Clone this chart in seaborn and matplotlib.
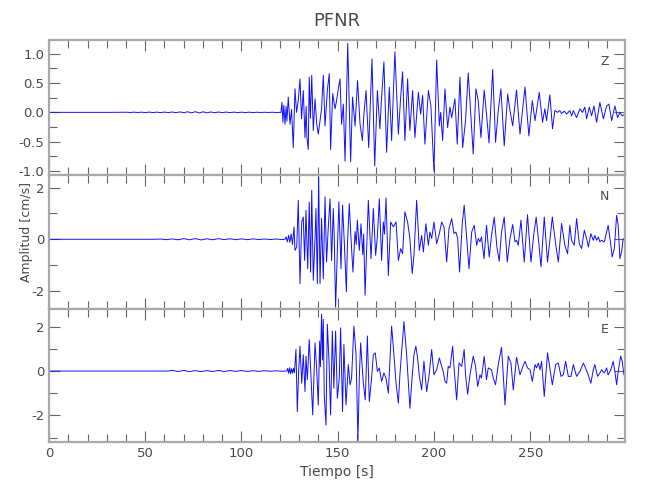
import numpy as np
import pandas as pd
import matplotlib
matplotlib.use("Agg")
import matplotlib.pyplot as plt
import seaborn as sns
from matplotlib.ticker import MultipleLocator

# Station / components
station = "PFNR"
components = ["Z", "N", "E"]

# Vertical component: (time [s], amplitude [cm/s])
z_trace = [
    (0, 0.0), (30, 0.0), (40, 0.002), (42, -0.002), (44, 0.003), (46, -0.002), (48, 0.003),
    (50, -0.003), (52, 0.004), (54, -0.003), (56, 0.004), (58, -0.004), (60, 0.005),
    (62, -0.005), (64, 0.006), (66, -0.005), (68, 0.008), (70, -0.007), (72, 0.01),
    (74, -0.009), (76, 0.011), (78, -0.01), (80, 0.009), (82, -0.008), (84, 0.007),
    (86, -0.006), (88, 0.006), (90, -0.005), (92, 0.005), (94, -0.004), (96, 0.004),
    (98, -0.004), (100, 0.003), (102, -0.003), (104, 0.003), (106, -0.003), (108, 0.002),
    (110, -0.002), (112, 0.002), (114, -0.002), (116, 0.002), (118, -0.002), (120.5, 0.0),
    (121.0, 0.17), (121.5, -0.17), (122.0, 0.12), (122.6, -0.2), (123.2, 0.1), (123.6, -0.15),
    (124.3, 0.26), (125.2, -0.2), (126.0, 0.05), (126.9, -0.6), (127.8, 0.40), (128.6, 0.0),
    (129.5, 0.2), (130.4, 0.57), (131.2, -0.11), (132.1, 0.37), (133.0, -0.43), (133.6, 0.1),
    (134.0, -0.43), (134.7, -0.63), (135.2, 0.60), (135.8, -0.1), (136.5, 0.63), (137.3, -0.31),
    (138.2, 0.23), (139.1, -0.2), (139.9, -0.37), (140.8, -0.14), (141.6, 0.06), (142.5, 0.63),
    (143.4, -0.23), (144.6, 0.37), (145.6, 0.66), (146.3, -0.63), (147.4, 0.32), (148.6, 0.06),
    (149.4, 0.2), (150.3, 0.4), (151.2, 0.57), (152.0, -0.2), (152.9, 0.14), (153.8, -0.83),
    (155.2, 1.17), (156.7, -0.84), (157.7, 0.26), (159.0, -0.23), (160.3, 0.54), (161.6, -0.2),
    (162.8, -0.48), (163.6, -0.03), (164.7, 0.37), (166.1, -0.6), (167.8, 0.91), (169.2, -0.91),
    (170.6, 0.37), (171.9, -0.28), (172.8, 0.26), (174.0, 0.86), (175.4, -0.68), (176.8, 0.43),
    (178.0, -0.48), (179.7, 1.03), (181.5, -0.37), (182.7, 0.26), (183.7, 0.69), (184.9, -0.48),
    (186.3, 0.57), (187.5, -0.31), (188.9, 0.37), (190.1, -0.43), (191.9, 0.34), (193.1, -0.03),
    (194.1, 0.29), (195.3, -0.54), (197.1, 0.37), (198.4, 0.11), (200.0, -1.0), (201.4, 0.89),
    (202.8, -0.23), (203.5, 0.0), (204.5, -0.48), (205.7, 0.40), (207.1, -0.26), (208.3, 0.09),
    (209.2, -0.09), (210.9, 0.23), (212.1, -0.54), (213.5, 0.60), (214.9, -0.60), (216.4, -0.14),
    (217.8, 0.67), (220.4, -0.71), (221.8, 0.40), (223.0, 0.20), (224.4, -0.43), (226.1, 0.38),
    (227.3, -0.03), (228.6, -0.52), (230.5, 0.73), (232.0, -0.51), (233.4, 0.03), (234.8, 0.40),
    (236.5, -0.57), (238.3, 0.31), (239.5, 0.03), (240.9, -0.23), (242.9, 0.38), (244.7, -0.37),
    (247.3, 0.43), (249.3, -0.40), (251.1, 0.20), (252.5, -0.14), (254.7, 0.34), (256.4, -0.17),
    (257.6, 0.06), (258.5, -0.14), (260.2, 0.30), (261.6, -0.28), (262.8, 0.03), (264.2, 0.0),
    (265.4, 0.03), (266.3, -0.02), (267.7, 0.02), (268.9, -0.03), (270.6, 0.03), (271.5, -0.06),
    (272.4, 0.03), (274.1, -0.09), (275.8, 0.06), (277.2, 0.0), (278.4, 0.09), (279.3, -0.11),
    (280.7, 0.09), (281.9, -0.06), (283.1, 0.11), (284.5, -0.17), (286.2, 0.17), (288.0, -0.11),
    (289.7, 0.11), (290.9, 0.14), (292.3, -0.14), (294.0, 0.11), (295.4, -0.09), (296.6, 0.0),
    (297.8, -0.06), (299.2, -0.03),
]

# North component
n_trace = [
    (0, 0.0), (55, 0.0), (58, 0.01), (61, -0.015), (64, 0.015), (67, -0.02), (70, 0.025),
    (73, -0.02), (76, 0.025), (79, -0.025), (82, 0.02), (85, -0.02), (88, 0.025), (91, -0.015),
    (94, 0.02), (97, -0.015), (100, 0.015), (103, -0.015), (106, 0.015), (109, -0.01), (112, 0.01),
    (115, -0.01), (118, 0.01), (121, -0.01),
    (122.6, 0.0), (123.2, 0.1), (123.8, -0.1), (124.5, 0.15), (125.1, -0.12), (125.8, 0.2),
    (126.5, -0.2), (127.3, 0.48), (127.8, -0.43), (128.7, -0.30), (129.5, 1.51), (130.4, -1.72),
    (131.3, 0.67), (132.1, 0.86), (132.8, -0.82), (133.5, 1.12), (134.4, -1.14), (135.2, 1.44),
    (135.9, -1.27), (136.5, 1.90), (137.3, -1.59), (138.2, 0.03), (138.7, 1.19), (139.4, -1.72),
    (140.1, 2.41), (140.8, -1.72), (141.6, 0.81), (142.5, -1.53), (143.4, 1.64), (144.2, -0.88),
    (145.1, 0.48), (146.0, 1.57), (146.8, -0.82), (147.7, 1.19), (148.2, 0.03), (148.9, -2.63),
    (150.6, 1.45), (151.7, -1.14), (152.5, 1.32), (153.4, -0.10), (154.5, -2.04), (155.0, -0.30),
    (156.0, 1.38), (156.9, 0.03), (157.9, -1.27), (159.0, 0.3), (159.6, -0.2), (160.2, 0.74),
    (161.2, -0.43), (162.1, 0.6), (163.0, -0.6), (163.5, 0.2), (164.2, -2.17), (165.9, 1.51),
    (167.3, -0.75), (168.5, 1.19), (169.7, -0.62), (170.6, 0.1), (171.6, 1.57), (172.8, -0.82),
    (173.7, 0.67), (174.3, 0.2), (175.1, 1.60), (176.3, -1.40), (177.5, 0.67), (178.9, 0.48),
    (180.3, 0.67), (181.5, -0.82), (182.7, -0.36), (183.7, -0.56), (184.9, 1.06), (186.3, 0.67),
    (187.5, 0.03), (188.7, -1.33), (189.6, -0.62), (191.0, 1.51), (192.4, -0.43), (193.6, 0.15),
    (194.5, -0.49), (195.8, 0.60), (197.1, -0.23), (197.9, 0.28), (198.8, 0.03), (200.0, 0.67),
    (201.4, -0.17), (202.8, 0.22), (204.0, 0.67), (205.2, 0.48), (206.6, -0.88), (207.8, 0.41),
    (209.2, 0.80), (210.4, 0.22), (211.4, 0.28), (212.3, 0.03), (213.3, -1.27), (214.7, 0.61),
    (215.7, 1.32), (217.0, 0.03), (218.2, -1.14), (219.6, 0.28), (220.9, 0.54), (222.2, -0.23),
    (223.0, 0.03), (223.9, -0.10), (224.7, 0.09), (226.0, -0.75), (227.3, 0.54), (228.7, -0.69),
    (229.9, 0.15), (231.3, 0.86), (232.7, -0.30), (233.9, -0.85), (235.1, 0.28), (236.5, 0.86),
    (238.1, -0.88), (239.5, 0.03), (240.9, 0.57), (242.1, -0.10), (242.9, -0.04), (243.8, -0.23),
    (245.2, 0.74), (246.9, -0.88), (248.6, 0.95), (250.4, -0.88), (251.8, 0.15), (253.1, 0.86),
    (254.4, -0.10), (255.6, -1.07), (257.3, 0.86), (259.0, -0.88), (261.5, 0.86), (263.2, -0.17),
    (264.6, -0.88), (266.3, 0.61), (268.0, -0.23), (269.4, -0.56), (270.6, 0.54), (271.5, -0.04),
    (272.9, -0.23), (274.1, 0.80), (275.5, -0.17), (276.7, -0.36), (278.1, 0.35), (279.3, 0.03),
    (280.2, -0.30), (281.5, 0.22), (282.8, -0.04), (283.6, 0.15), (284.5, -0.04), (285.4, 0.09),
    (286.2, -0.10), (287.1, -0.04), (288.5, -0.10), (289.7, 0.28), (290.5, 0.54), (291.8, -0.17),
    (292.6, -0.68), (293.7, -0.36), (294.9, 0.93), (295.7, 0.54), (296.6, -0.75), (297.5, -0.49),
    (298.3, 0.03),
]

# East component
e_trace = [
    (0, 0.0), (62, 0.0), (64, 0.03), (67, -0.02), (70, 0.025), (73, -0.025), (76, 0.02),
    (79, -0.025), (82, 0.02), (85, -0.02), (88, 0.025), (91, -0.02), (94, 0.02), (97, -0.015),
    (100, 0.02), (103, -0.015), (106, 0.015), (109, -0.015), (112, 0.015), (115, -0.01), (118, 0.01),
    (121, -0.01), (123.5, 0.0), (124.0, 0.12), (124.5, -0.1), (125.0, 0.15), (125.5, -0.12),
    (126.0, 0.1), (126.5, -0.1), (127.0, 0.12), (127.5, -0.08), (128.3, 0.97), (129.0, -1.83),
    (129.7, -0.02), (130.4, 1.12), (131.3, -0.55), (132.1, 0.74), (133.0, -0.93), (133.5, 0.67),
    (134.2, -0.39), (135.2, 1.42), (135.9, 0.14), (137.0, -1.98), (138.2, 1.27), (139.0, 0.2),
    (139.9, -1.53), (140.6, 1.35), (141.0, 0.2), (141.6, 2.56), (142.1, 0.5), (142.5, 2.33),
    (143.0, -1.08), (143.9, -2.44), (144.6, 2.11), (145.5, 0.4), (146.3, -1.98), (147.2, 1.80),
    (148.0, -0.77), (148.9, 1.80), (149.8, -1.23), (150.8, -0.32), (151.5, 1.95), (152.5, -1.83),
    (153.2, 1.20), (154.3, -1.53), (155.5, 0.29), (156.4, -0.62), (157.2, -0.32), (158.4, 2.03),
    (159.5, 0.74), (160.5, -3.17), (161.2, -0.32), (161.9, 1.27), (163.3, -0.55), (164.3, -1.30),
    (165.4, 1.58), (166.4, -1.38), (167.6, -0.32), (168.5, 0.74), (169.5, 0.82), (170.6, -0.02),
    (171.6, 0.14), (172.8, -0.47), (174.0, -0.09), (175.1, -0.32), (176.3, -1.00), (178.0, 2.03),
    (179.2, 0.74), (180.3, -0.55), (181.5, -1.45), (182.3, -0.17), (184.4, 2.23), (185.8, 0.74),
    (187.5, -1.68), (188.7, -0.24), (189.6, 0.74), (190.6, 1.12), (191.5, 0.59), (192.4, -0.24),
    (193.6, -0.85), (194.8, 0.44), (196.2, -0.93), (197.4, -0.24), (198.8, 0.97), (200.0, -0.17),
    (201.4, 0.06), (202.8, 0.59), (204.0, 0.21), (204.8, -0.02), (205.7, -0.47), (206.6, -0.55),
    (207.4, 0.21), (208.3, 0.14), (209.7, 1.12), (210.5, 0.06), (211.8, -1.30), (213.0, 0.36),
    (214.4, 0.21), (215.7, 0.97), (216.4, -0.17), (217.5, -1.05), (218.7, -0.17), (220.4, 0.67),
    (221.6, 0.21), (222.7, -0.70), (223.9, -0.17), (224.7, -0.32), (226.1, 0.67), (227.3, -0.39),
    (228.2, 0.14), (229.9, 0.06), (230.8, -0.32), (232.0, -0.62), (233.4, 0.29), (235.1, 1.07),
    (236.0, -0.17), (236.9, -1.53), (238.6, 0.67), (240.0, 0.36), (241.2, -0.85), (242.9, 0.62),
    (244.7, -0.17), (245.9, 0.14), (247.3, 0.44), (248.6, 0.14), (249.9, 0.06), (251.1, -0.47),
    (252.5, 0.29), (253.3, 0.14), (254.2, 0.36), (255.1, 0.06), (255.9, 0.44), (257.3, -1.15),
    (259.0, 0.82), (260.2, 0.14), (261.5, -0.62), (263.2, 0.29), (264.6, 0.36), (266.0, -0.24),
    (267.2, -0.17), (268.4, 0.44), (269.8, -0.24), (271.2, -0.24), (272.4, 0.29), (274.1, -0.24),
    (275.8, -0.02), (277.6, 0.36), (278.4, 0.21), (279.8, -0.09), (281.5, -0.55), (282.8, 0.06),
    (283.6, 0.29), (285.0, -0.24), (286.2, -0.09), (287.1, 0.06), (288.5, -0.09), (289.7, 0.14),
    (290.5, -0.17), (291.9, 0.06), (293.1, 0.44), (294.0, -0.02), (294.9, -0.62), (295.7, -0.02),
    (297.0, 0.67), (297.8, 0.44), (298.7, -0.17),
]

traces = [z_trace, n_trace, e_trace]
y_limits = [(-1.06, 1.23), (-2.68, 2.5), (-3.2, 2.82)]
y_major = [0.5, 2, 2]
y_minor = [0.25, 1, 1]
y_fmt = ["{:.1f}", "{:.0f}", "{:.0f}"]
x_max = 299

sns.set_theme(style="white")
plt.rcParams["font.family"] = ["DejaVu Sans"]
plt.rcParams["axes.unicode_minus"] = False

frame_col = "#a9a9a9"
text_col = "#4a4a4a"

fig = plt.figure(figsize=(6.5, 5), dpi=100)
left, width = 0.0754, 0.8854
boxes = [(0.6506, 0.2694), (0.383, 0.2676), (0.116, 0.267)]

for i, (comp, tr) in enumerate(zip(components, traces)):
    ax = fig.add_axes([left, boxes[i][0], width, boxes[i][1]])
    df = pd.DataFrame(tr, columns=["t", "amp"])
    sns.lineplot(data=df, x="t", y="amp", ax=ax, color="#1010ff", linewidth=0.7,
                 estimator=None, sort=False)
    ax.set_xlim(0, x_max)
    ax.set_ylim(*y_limits[i])
    ax.xaxis.set_major_locator(MultipleLocator(50))
    ax.xaxis.set_minor_locator(MultipleLocator(10))
    ax.yaxis.set_major_locator(MultipleLocator(y_major[i]))
    ax.yaxis.set_minor_locator(MultipleLocator(y_minor[i]))
    ax.tick_params(which="both", direction="in", top=True, right=True, bottom=True, left=True,
                   color="#666666", labelcolor=text_col, labelsize=9.5, width=0.8)
    ax.tick_params(which="major", length=8)
    ax.tick_params(which="minor", length=6)
    ax.yaxis.set_major_formatter(plt.FuncFormatter(lambda v, p, f=y_fmt[i]: f.format(v)))
    for sp in ax.spines.values():
        sp.set_color(frame_col)
        sp.set_linewidth(1.6)
    ax.set_xlabel("")
    ax.set_ylabel("")
    if i < 2:
        ax.tick_params(labelbottom=False)
    else:
        ax.set_xlabel("Tiempo [s]", color=text_col, fontsize=10, labelpad=4)
    ax.text(0.965, 0.84, comp, transform=ax.transAxes, ha="center", va="center",
            color=text_col, fontsize=9)

fig.text(0.518, 0.958, station, ha="center", va="center", color=text_col, fontsize=13)
fig.text(0.041, 0.535, "Amplitud [cm/s]", ha="center", va="center", rotation=90,
         color=text_col, fontsize=9)

fig.savefig("out.png", dpi=100)
